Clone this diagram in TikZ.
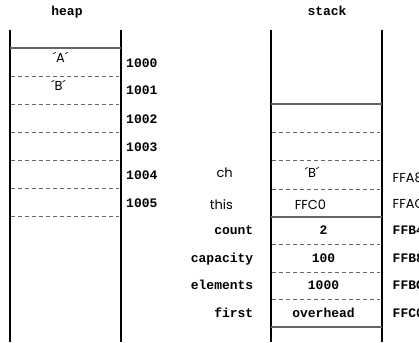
\documentclass[tikz,border=0pt]{standalone}
\usepackage{fontspec}
\setmainfont{Poppins}
\newfontfamily\codefont{Liberation Mono}
\tikzset{
  wall/.style={line width=1.8pt, black},
  cellsolid/.style={line width=1.3pt, black!60},
  celldash/.style={line width=0.9pt, black!60, dash pattern=on 4pt off 3pt},
  monolbl/.style={inner sep=0pt, font=\codefont\bfseries\fontsize{13}{15}\selectfont},
  sansbig/.style={inner sep=0pt, font=\fontsize{13}{15}\selectfont},
}
\begin{document}
\begin{tikzpicture}[x=1pt,y=-1pt]
\useasboundingbox (0,0) rectangle (419,342);
\clip (0,0) rectangle (419,342);
% titles
\node[monolbl, anchor=base] (heaptitle) at (67,16) {heap};
\node[monolbl, anchor=base] (stacktitle) at (327,16) {stack};
% heap
\draw[wall] (10,30) -- (10,342);
\draw[wall] (121,30) -- (121,342);
\draw[cellsolid] (10,48) -- (121,48);
\foreach \yy in {76,104,132,160,188,216} \draw[celldash] (11,\yy) -- (119,\yy);
\node[sansbig, anchor=base] (ha) at (60.5,63) {´A´};
\node[sansbig, anchor=base] (hb) at (58.5,91) {´B´};
\node[monolbl, anchor=base west] (h0) at (126,67) {1000};
\node[monolbl, anchor=base west] (h1) at (126,95) {1001};
\node[monolbl, anchor=base west] (h2) at (126,123) {1002};
\node[monolbl, anchor=base west] (h3) at (126,151) {1003};
\node[monolbl, anchor=base west] (h4) at (126,179) {1004};
\node[monolbl, anchor=base west] (h5) at (126,207) {1005};
% stack
\draw[wall] (271,30) -- (271,342);
\draw[wall] (382,30) -- (382,342);
\foreach \yy in {104,217,327} \draw[cellsolid] (271,\yy) -- (382,\yy);
\foreach \yy in {132,160,189,244,272,299} \draw[celldash] (272,\yy) -- (380,\yy);
\node[sansbig, anchor=base] (sb) at (312,177) {´B´};
\node[sansbig, anchor=base] (sthis) at (310.5,209) {FFC0};
\node[monolbl, anchor=base] (scount) at (323.5,234.5) {2};
\node[monolbl, anchor=base] (scap) at (323.5,262) {100};
\node[monolbl, anchor=base] (selem) at (323.5,289.5) {1000};
\node[monolbl, anchor=base] (sfirst) at (323.5,317) {overhead};
% left names
\node[sansbig, anchor=base east] (nch) at (233,177) {ch};
\node[sansbig, anchor=base east] (nthis) at (233,209) {this};
\node[monolbl, anchor=base east] (ncount) at (253.5,234.5) {count};
\node[monolbl, anchor=base east] (ncap) at (253.5,262) {capacity};
\node[monolbl, anchor=base east] (nelem) at (253.5,289.5) {elements};
\node[monolbl, anchor=base east] (nfirst) at (253.5,317) {first};
% right addresses (cut off by the right edge, as in the reference)
\node[sansbig, anchor=base west] (ach) at (392.5,182) {FFA8};
\node[sansbig, anchor=base west] (athis) at (392.5,208) {FFAC};
\node[monolbl, anchor=base west] (acount) at (392.5,234.5) {FFB4};
\node[monolbl, anchor=base west] (acap) at (392.5,262) {FFB8};
\node[monolbl, anchor=base west] (aelem) at (392.5,289.5) {FFBC};
\node[monolbl, anchor=base west] (afirst) at (392.5,317) {FFC0};
\end{tikzpicture}
\end{document}
